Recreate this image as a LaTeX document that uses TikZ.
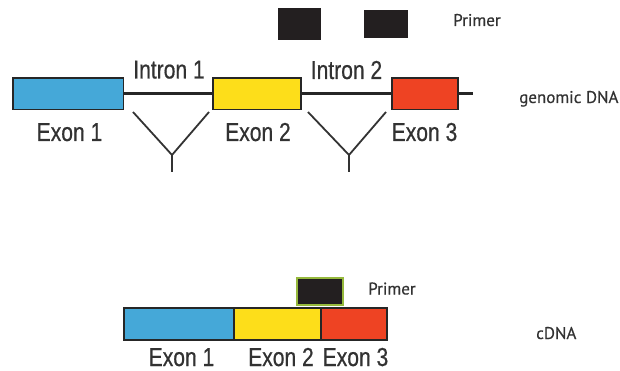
\documentclass[tikz,border=0pt]{standalone}
\usepackage{fontspec}
\newfontfamily\condfont[FakeStretch=0.81,FakeBold=0.6]{Liberation Sans}
\newfontfamily\humfont[FakeBold=0.4]{PT Sans}
\definecolor{exblue}{RGB}{69,168,216}
\definecolor{exyellow}{RGB}{253,222,26}
\definecolor{exred}{RGB}{238,67,35}
\definecolor{primerblack}{RGB}{35,31,32}
\definecolor{primergreen}{RGB}{150,185,60}
\definecolor{txtgray}{RGB}{50,50,50}
\tikzset{
  exonbox/.style={draw=black!85, line width=1.6pt, inner sep=0pt, outer sep=0pt, minimum height=31.5pt},
  primerbox/.style={fill=primerblack, draw=primerblack, line width=0.8pt, inner sep=0pt, outer sep=0pt},
  biglabel/.style={font=\condfont\fontsize{26}{30}\selectfont, text=txtgray, anchor=base, inner sep=0pt},
  smalllabel/.style={font=\humfont\fontsize{17}{20}\selectfont, text=txtgray, anchor=base west, inner sep=0pt},
  dnaline/.style={draw=black!85, line width=2.5pt},
  spliceline/.style={draw=black!80, line width=1.8pt}
}
\begin{document}
\begin{tikzpicture}[x=1pt,y=-1pt]
\useasboundingbox (0,0) rectangle (620,371);
% genomic DNA
\node[exonbox, fill=exblue, minimum width=110.5pt] (e1) at (68.25,93.75) {};
\node[exonbox, fill=exyellow, minimum width=88pt] (e2) at (257,93.75) {};
\node[exonbox, fill=exred, minimum width=66pt] (e3) at (425,93.75) {};
\coordinate (gend) at (473,93.75);
\draw[dnaline] (e1.east) -- (e2.west);
\draw[dnaline] (e2.east) -- (e3.west);
\draw[dnaline] (e3.east) -- (gend);
% primers (genomic)
\node[primerbox, minimum width=42pt, minimum height=31pt] (p1) at (299,23.5) {};
\node[primerbox, minimum width=43pt, minimum height=27pt] (p2) at (385.5,23.5) {};
% splice V shapes
\coordinate (v1a) at (133,112);
\coordinate (v1b) at (172,155);
\coordinate (v1c) at (209,112);
\coordinate (v1d) at (172,172);
\coordinate (v2a) at (308,112);
\coordinate (v2b) at (349,155);
\coordinate (v2c) at (386,112);
\coordinate (v2d) at (349,172);
\draw[spliceline] (v1a) -- (v1b) -- (v1c);
\draw[spliceline] (v1b) -- (v1d);
\draw[spliceline] (v2a) -- (v2b) -- (v2c);
\draw[spliceline] (v2b) -- (v2d);
% genomic labels
\node[biglabel] (le1) at (69.5,141) {Exon 1};
\node[biglabel] (le2) at (258,141) {Exon 2};
\node[biglabel] (le3) at (424.5,141) {Exon 3};
\node[biglabel] (li1) at (169,78.5) {Intron 1};
\node[biglabel] (li2) at (346.5,79) {Intron 2};
\node[smalllabel] (lp1) at (453,26) {Primer};
\node[smalllabel] (lg) at (519,103) {genomic DNA};
% cDNA
\node[exonbox, fill=exblue, minimum width=110pt, minimum height=32pt] (c1) at (179,324) {};
\node[exonbox, fill=exyellow, minimum width=87pt, minimum height=32pt] (c2) at (277.5,324) {};
\node[exonbox, fill=exred, minimum width=66pt, minimum height=32pt] (c3) at (354,324) {};
\node[primerbox, draw=primergreen, line width=1.2pt, minimum width=46pt, minimum height=27pt] (p3) at (320,291.5) {};
\node[biglabel] (lc1) at (181.5,366) {Exon 1};
\node[biglabel] (lc2) at (281,366) {Exon 2};
\node[biglabel] (lc3) at (355.5,366) {Exon 3};
\node[smalllabel] (lp2) at (368,294.5) {Primer};
\node[smalllabel] (lc) at (536,339) {cDNA};
\end{tikzpicture}
\end{document}
